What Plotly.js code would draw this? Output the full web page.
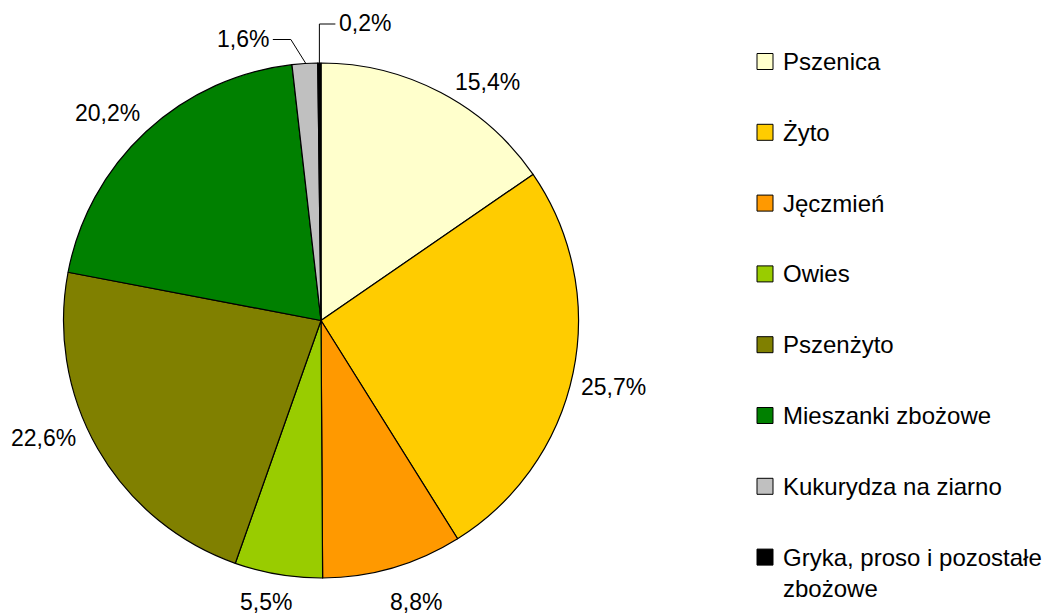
<!DOCTYPE html>
<html>
<head>
<meta charset="utf-8">
<script src="https://cdn.plot.ly/plotly-3.0.1.min.js"></script>
<style>html,body{margin:0;padding:0;background:#fff;}#chart{width:1048px;height:614px;}</style>
</head>
<body>
<div id="chart"></div>
<script>
// ---- data ----
const labels = ['Pszenica', 'Żyto', 'Jęczmień', 'Owies', 'Pszenżyto', 'Mieszanki zbożowe', 'Kukurydza na ziarno', 'Gryka, proso i pozostałe<br>zbożowe'];
const values = [15.4, 25.7, 8.8, 5.5, 22.6, 20.2, 1.6, 0.2];
const colors = ['#FFFFCC', '#FFCC00', '#FF9900', '#99CC00', '#808000', '#008000', '#C0C0C0', '#000000'];

// ---- layout constants (pixels) ----
const W = 1048, H = 614;
const CX = 321, CY = 320.5, R = 257.5;
const FONT = 'Liberation Sans, Arial, sans-serif';
const FS = 23, LFS = 24;
// manual label nudges (like dragged data labels), px
const labelR = 297;
const nudge = [[28, 25], [1.5, 7], [12, -3], [-6, -10], [-20, -29], [-11.5, 11.5]];

const px = x => x / W;
const py = y => 1 - y / H;
const fmt = v => v.toFixed(1).replace('.', ',') + '%';

const total = values.reduce((a, b) => a + b, 0);
const annotations = [];
const shapes = [];
let cum = 0;
values.forEach((v, i) => {
  const mid = (cum + v / 2) / total * 2 * Math.PI;
  cum += v;
  const s = Math.sin(mid), c = Math.cos(mid);
  const ex = CX + R * s, ey = CY - R * c;
  if (v >= 3) {
    const n = nudge[i] || [0, 0];
    annotations.push({
      x: px(CX + labelR * s + n[0]), y: py(CY - labelR * c + n[1] - 1),
      xref: 'paper', yref: 'paper', xanchor: 'center', yanchor: 'middle',
      text: fmt(v), showarrow: false, font: {family: FONT, size: FS, color: '#000'}
    });
  } else {
    // leader-line labels for tiny slices
    let pts, lx, anchor;
    if (i === values.length - 1) {
      pts = [[ex, ey], [ex, ey - 39], [ex + 16, ey - 39]];
      lx = ex + 18; anchor = 'left';
    } else {
      pts = [[ex + 1, ey], [ex - 14, ey - 24], [ex - 32, ey - 24]];
      lx = ex - 34; anchor = 'right';
    }
    const last = pts[pts.length - 1];
    shapes.push({
      type: 'path', xref: 'paper', yref: 'paper',
      path: 'M' + pts.map(p => px(p[0]) + ',' + py(p[1])).join(' L'),
      line: {color: '#000', width: 1}
    });
    annotations.push({
      x: px(lx), y: py(last[1] - 1), xref: 'paper', yref: 'paper',
      xanchor: anchor, yanchor: 'middle', text: fmt(v), showarrow: false,
      font: {family: FONT, size: FS, color: '#000'}
    });
  }
});

// ---- custom legend ----
const legX = 757, legY0 = 61.5, legStep = 70.8, box = 16;
labels.forEach((lab, i) => {
  const yc = legY0 + i * legStep;
  shapes.push({
    type: 'rect', xref: 'paper', yref: 'paper',
    x0: px(legX), x1: px(legX + box), y0: py(yc - box / 2), y1: py(yc + box / 2),
    fillcolor: colors[i], line: {color: '#000', width: 1}
  });
  const multi = lab.indexOf('<br>') >= 0;
  annotations.push({
    x: px(legX + box + 8), y: multi ? py(yc - 15) : py(yc), xref: 'paper', yref: 'paper',
    xanchor: 'left', yanchor: multi ? 'top' : 'middle', align: 'left',
    text: lab, showarrow: false, font: {family: FONT, size: LFS, color: '#000'}
  });
});

const trace = {
  type: 'pie', labels: labels, values: values, sort: false,
  direction: 'clockwise', rotation: 0,
  marker: {colors: colors, line: {color: '#000', width: 1.2}},
  textinfo: 'none', hoverinfo: 'skip', showlegend: false,
  domain: {x: [px(CX - R), px(CX + R)], y: [py(CY + R), py(CY - R)]}
};

const layout = {
  width: W, height: H, margin: {l: 0, r: 0, t: 0, b: 0},
  paper_bgcolor: '#fff', plot_bgcolor: '#fff', showlegend: false,
  annotations: annotations, shapes: shapes,
  font: {family: FONT, size: FS, color: '#000'}
};

Plotly.newPlot('chart', [trace], layout, {displayModeBar: false, staticPlot: true});
</script>
</body>
</html>
